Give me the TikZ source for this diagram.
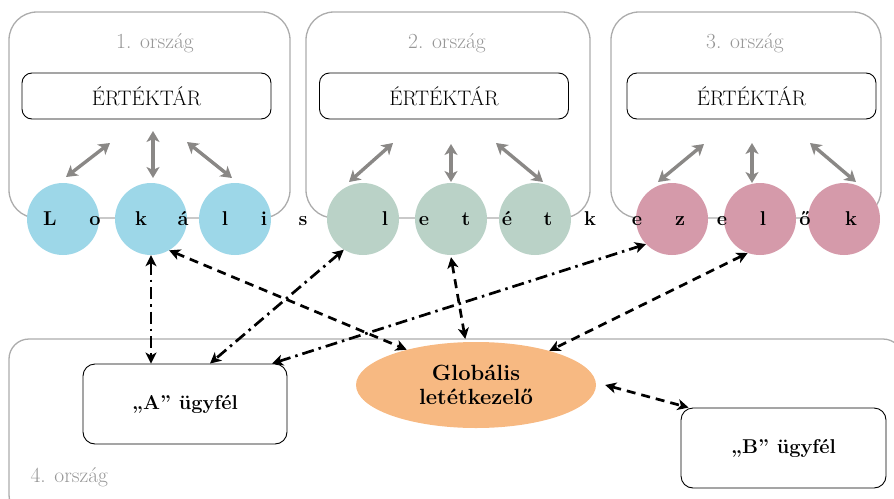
\documentclass[tikz,border=0pt]{standalone}
\usepackage{fontspec}
\usetikzlibrary{arrows.meta,shapes.geometric,calc}
\definecolor{cblue}{RGB}{157,215,232}
\definecolor{cgreen}{RGB}{186,210,199}
\definecolor{cpink}{RGB}{213,154,170}
\definecolor{corange}{RGB}{247,185,130}
\definecolor{cframe}{RGB}{172,172,172}
\definecolor{carrow}{RGB}{138,136,134}
\definecolor{ctext}{RGB}{150,150,150}
\tikzset{
  country/.style={draw=cframe,line width=1.3pt,rounded corners=28pt},
  countrylabel/.style={text=ctext,font=\fontsize{21.5}{24}\selectfont},
  vault/.style={draw=black,line width=0.9pt,rounded corners=10pt,minimum width=249pt,minimum height=46pt,inner sep=0pt,font=\fontsize{21}{24}\selectfont},
  agent/.style={circle,minimum size=72pt,inner sep=0pt},
  letter/.style={anchor=base,font=\fontsize{20}{22}\selectfont\bfseries,inner sep=0pt},
  grayarr/.style={draw=carrow,line width=3.4pt,{Stealth[length=11pt,width=13pt,inset=3pt]}-{Stealth[length=11pt,width=13pt,inset=3pt]}},
  blackarr/.style={draw=black,line width=2.7pt,{Stealth[length=11pt,width=11pt,inset=3pt]}-{Stealth[length=11pt,width=11pt,inset=3pt]}},
  dsh/.style={dash pattern=on 9pt off 6pt},
  dshdot/.style={dash pattern=on 12pt off 5pt on 2.5pt off 5pt},
  client/.style={draw=black,line width=0.9pt,rounded corners=12pt,inner sep=0pt,font=\fontsize{20}{22}\selectfont\bfseries}
}
\begin{document}
\begin{tikzpicture}[x=1pt,y=-1pt]
\useasboundingbox (0,0) rectangle (894,498);
% country frames
\draw[country] (9,12) rectangle (290,218);
\draw[country] (306,12) rectangle (590,218);
\draw[country] (611,12) rectangle (881,218);
\draw[country,rounded corners=20pt] (9,339) rectangle (903,515);
\node[countrylabel] (l1) at (155,43) {1. ország};
\node[countrylabel] (l2) at (447,43) {2. ország};
\node[countrylabel] (l3) at (745,43) {3. ország};
\node[countrylabel,anchor=base west] (l4) at (27,482) {4. ország};
% vaults
\node[vault] (v1) at (146.5,96) {ÉRTÉKTÁR};
\node[vault] (v2) at (444,96) {ÉRTÉKTÁR};
\node[vault] (v3) at (751.5,96) {ÉRTÉKTÁR};
% agents
\node[agent,fill=cblue] (c11) at (63,219) {};
\node[agent,fill=cblue] (c12) at (151,219) {};
\node[agent,fill=cblue] (c13) at (235,219) {};
\node[agent,fill=cgreen] (c21) at (363,219) {};
\node[agent,fill=cgreen] (c22) at (451,219) {};
\node[agent,fill=cgreen] (c23) at (535,219) {};
\node[agent,fill=cpink] (c31) at (672,219) {};
\node[agent,fill=cpink] (c32) at (760,219) {};
\node[agent,fill=cpink] (c33) at (844,219) {};
% letters
\foreach \ch/\xx [count=\i] in {L/50,o/95,k/141,á/183,l/225,i/264,s/303,l/385,e/424,t/466,é/507,t/548,k/590,e/637,z/680,e/722,l/763,ő/805,k/851}
  \node[letter] (t\i) at (\xx,225) {\ch};
% gray arrows
\coordinate (a11) at (66,177); \coordinate (b11) at (110,143);
\coordinate (a12) at (153,178); \coordinate (b12) at (153,131);
\coordinate (a13) at (232,178); \coordinate (b13) at (187,142);
\coordinate (a21) at (349,182); \coordinate (b21) at (393,143);
\coordinate (a22) at (451,182); \coordinate (b22) at (451,144);
\coordinate (a23) at (543,182); \coordinate (b23) at (496,143);
\coordinate (a31) at (658,182); \coordinate (b31) at (704,144);
\coordinate (a32) at (752,183); \coordinate (b32) at (752,143);
\coordinate (a33) at (856,182); \coordinate (b33) at (810,143);
\foreach \p in {11,12,13,21,22,23,31,32,33}
  \draw[grayarr] (a\p) -- (b\p);
% clients and global
\node[client,minimum width=204pt,minimum height=80pt] (A) at (185,404) {„A” ügyfél};
\node[client,minimum width=205pt,minimum height=80pt] (B) at (783.5,448) {„B” ügyfél};
\node[ellipse,fill=corange,minimum width=240pt,minimum height=86pt,inner sep=0pt,align=center,font=\fontsize{22}{24}\selectfont\bfseries] (G) at (476,385) {Globális\\letétkezelő};
% black arrows
\draw[blackarr,dshdot] (c12.south) -- ([xshift=-34pt]A.north);
\draw[blackarr,dsh] (c12.-60) -- (G.153);
\draw[blackarr,dshdot] (c21.-122) -- ([xshift=25pt]A.north);
\draw[blackarr,dshdot] ([xshift=87pt]A.north) -- (c31.-136);
\draw[blackarr,dsh] ([yshift=-2pt]c22.south) -- ([yshift=3pt]G.104);
\draw[blackarr,dsh] (c32.-110) -- (G.25);
\draw[blackarr,dsh] ([xshift=9pt]G.east) -- ([xshift=8pt]B.north west);
\end{tikzpicture}
\end{document}
